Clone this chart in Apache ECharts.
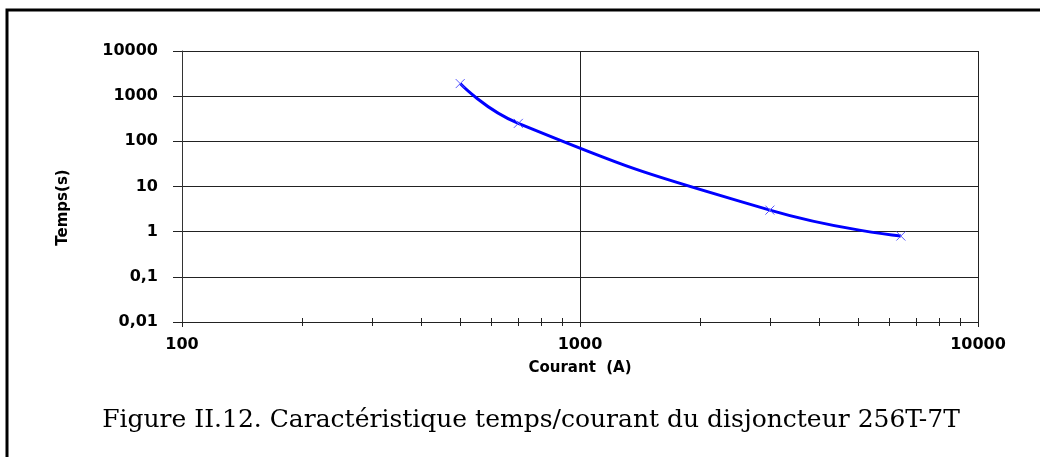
<!DOCTYPE html>
<html>
<head>
<meta charset="utf-8">
<script src="https://cdn.jsdelivr.net/npm/echarts@6/dist/echarts.min.js"></script>
<style>
  html, body { margin: 0; padding: 0; background: #fff; }
  #main { width: 1040px; height: 457px; }
</style>
</head>
<body>
<div id="main"></div>
<script>
// values (current in A, tripping time in s)
var currentA = [500, 700, 3000, 6400];
var timeS = [1900, 250, 3, 0.8];

var xTickLabels = ['100', '1000', '10000'];
var yTickLabels = ['0,01', '0,1', '1', '10', '100', '1000', '10000'];

var caption = 'Figure II.12. Caractéristique temps/courant du disjoncteur 256T-7T';

var chartDom = document.getElementById('main');
var myChart = echarts.init(chartDom, null, { renderer: 'canvas' });

var points = currentA.map(function (c, i) { return [c, timeS[i]]; });

var labelFont = {
  color: '#000',
  fontFamily: 'DejaVu Sans',
  fontWeight: 'bold',
  fontSize: 15
};

var option = {
  animation: false,
  grid: { left: 182, top: 51, right: 62, bottom: 135 },
  xAxis: [
    {
      type: 'log',
      logBase: 10,
      min: 100,
      max: 10000,
      interval: 1,
      name: 'Courant  (A)',
      nameLocation: 'middle',
      nameGap: 39,
      nameTextStyle: labelFont,
      axisLine: { show: true, lineStyle: { color: '#222', width: 1 } },
      axisTick: { show: true, length: 5, lineStyle: { color: '#222' } },
      minorTick: { show: true, splitNumber: 9, length: 4, lineStyle: { color: '#222' } },
      axisLabel: {
        margin: 15,
        color: '#000',
        fontFamily: 'DejaVu Sans',
        fontWeight: 'bold',
        fontSize: 16,
        formatter: function (v) { return xTickLabels[Math.round(Math.log10(v)) - 2]; }
      },
      splitLine: { show: true, lineStyle: { color: '#222', width: 1 } },
      minorSplitLine: { show: false }
    },
    {
      // same scale, only to draw the inner half of the minor ticks
      type: 'log',
      logBase: 10,
      min: 100,
      max: 10000,
      interval: 1,
      position: 'bottom',
      axisLine: { show: false },
      axisTick: { show: false, inside: true },
      minorTick: { show: true, splitNumber: 9, length: 4, lineStyle: { color: '#222' } },
      axisLabel: { show: false },
      splitLine: { show: false }
    }
  ],
  yAxis: {
    type: 'log',
    logBase: 10,
    min: 0.01,
    max: 10000,
    interval: 1,
    name: 'Temps(s)',
    nameLocation: 'middle',
    nameGap: 111,
    nameRotate: 90,
    nameTextStyle: {
      color: '#000',
      fontFamily: 'DejaVu Sans',
      fontWeight: 'bold',
      fontSize: 15,
      padding: [0, 42, 0, 0]
    },
    axisLine: { show: true, lineStyle: { color: '#333', width: 1 } },
    axisTick: { show: true, length: 9, lineStyle: { color: '#222' } },
    axisLabel: {
      margin: 24,
      color: '#000',
      fontFamily: 'DejaVu Sans',
      fontWeight: 'bold',
      fontSize: 16,
      formatter: function (v) { return yTickLabels[Math.round(Math.log10(v)) + 2]; }
    },
    splitLine: { show: true, lineStyle: { color: '#222', width: 1 } }
  },
  series: [
    {
      type: 'line',
      data: points,
      smooth: 0.5,
      symbol: 'path://M0,0L10,10M10,0L0,10',
      symbolSize: 9,
      showAllSymbol: true,
      itemStyle: { color: 'rgba(0,0,0,0)', borderColor: '#5a5aff', borderWidth: 1 },
      lineStyle: { color: '#0000ff', width: 3 },
      z: 5
    }
  ],
  graphic: [
    {
      type: 'rect',
      shape: { x: 7, y: 10, width: 1060, height: 480 },
      style: { fill: 'none', stroke: '#000', lineWidth: 3 },
      silent: true
    },
    {
      type: 'text',
      x: 531,
      y: 420,
      style: {
        text: caption,
        fill: '#000',
        font: 'normal 25px "DejaVu Serif"',
        textAlign: 'center',
        textVerticalAlign: 'middle'
      }
    }
  ]
};

myChart.setOption(option);

window.addEventListener('resize', function () {
  myChart.resize();
});
</script>
</body>
</html>
